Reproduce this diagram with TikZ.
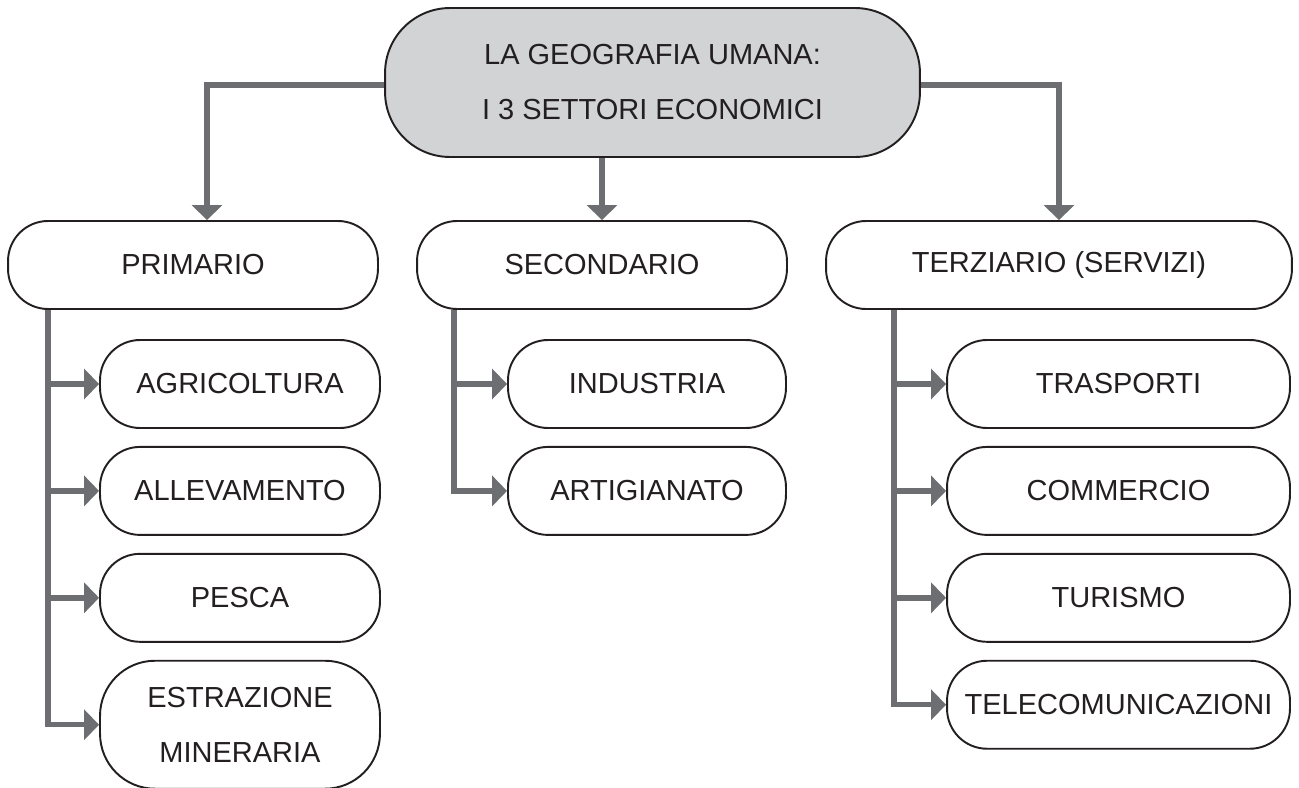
\documentclass[tikz,border=0pt]{standalone}
\usepackage{fontspec}
\setmainfont{Liberation Sans}
\usepackage{xcolor}
\usepackage{tikz}
\usetikzlibrary{arrows.meta}
\usetikzlibrary{calc}
\usetikzlibrary{positioning}

\definecolor{inkdark}{HTML}{231F20}
\definecolor{linkgray}{HTML}{6D6E71}
\definecolor{headgray}{HTML}{D1D3D4}

\begin{document}
\begin{tikzpicture}[x=0.02cm, y=-0.02cm, semithick]
	\tikzstyle{box}=[draw=inkdark, line width=1.1pt, fill=white, text=inkdark, rounded corners=0.8cm,
		minimum height=1.76cm, inner sep=0pt, align=center, font=\fontsize{16.5}{31.3}\selectfont]
	\tikzstyle{link}=[draw=linkgray, line width=3.1pt, -{Triangle[length=0.3cm,width=0.6cm]}]
	\useasboundingbox (0,0) rectangle (1299,788);

	\node[box, fill=headgray, rounded corners=1.3cm, minimum width=10.7cm, minimum height=2.98cm] (top) at (652.5,82.5)
		{LA GEOGRAFIA UMANA:\\I 3 SETTORI ECONOMICI};

	\node[box, minimum width=7.4cm]  (prim) at (193,265)  {PRIMARIO};
	\node[box, minimum width=7.4cm]  (sec)  at (602,265)  {SECONDARIO};
	\node[box, minimum width=9.32cm] (terz) at (1059,265) {TERZIARIO (SERVIZI)};

	\node[box, minimum width=5.6cm] (agri)  at (240,384) {AGRICOLTURA};
	\node[box, minimum width=5.6cm] (alle)  [below=0.34cm of agri]  {ALLEVAMENTO};
	\node[box, minimum width=5.6cm] (pesca) [below=0.34cm of alle]  {PESCA};
	\node[box, minimum width=5.6cm, minimum height=2.56cm, rounded corners=1.1cm] (estr) [below=0.34cm of pesca] {ESTRAZIONE\\MINERARIA};

	\node[box, minimum width=5.56cm] (ind) at (647,384) {INDUSTRIA};
	\node[box, minimum width=5.56cm] (art) [below=0.34cm of ind] {ARTIGIANATO};

	\node[box, minimum width=6.86cm] (tras) at (1118.5,384) {TRASPORTI};
	\node[box, minimum width=6.86cm] (comm) [below=0.34cm of tras] {COMMERCIO};
	\node[box, minimum width=6.86cm] (tur)  [below=0.34cm of comm] {TURISMO};
	\node[box, minimum width=6.86cm] (tele) [below=0.34cm of tur]  {TELECOMUNICAZIONI};

	\draw[link] ([yshift=-0.05cm]top.west) -| ([xshift=0.28cm]prim.north);
	\draw[link] (sec.north |- top.south) -- (sec.north);
	\draw[link] ([yshift=-0.05cm]top.east) -| (terz.north);

	\foreach \c in {agri,alle,pesca,estr}{
		\draw[link] ([xshift=0.82cm]prim.south west) |- (\c.west);
	}
	\foreach \c in {ind,art}{
		\draw[link] ([xshift=0.76cm]sec.south west) |- (\c.west);
	}
	\foreach \c in {tras,comm,tur,tele}{
		\draw[link] ([xshift=1.38cm]terz.south west) |- (\c.west);
	}
\end{tikzpicture}
\end{document}
